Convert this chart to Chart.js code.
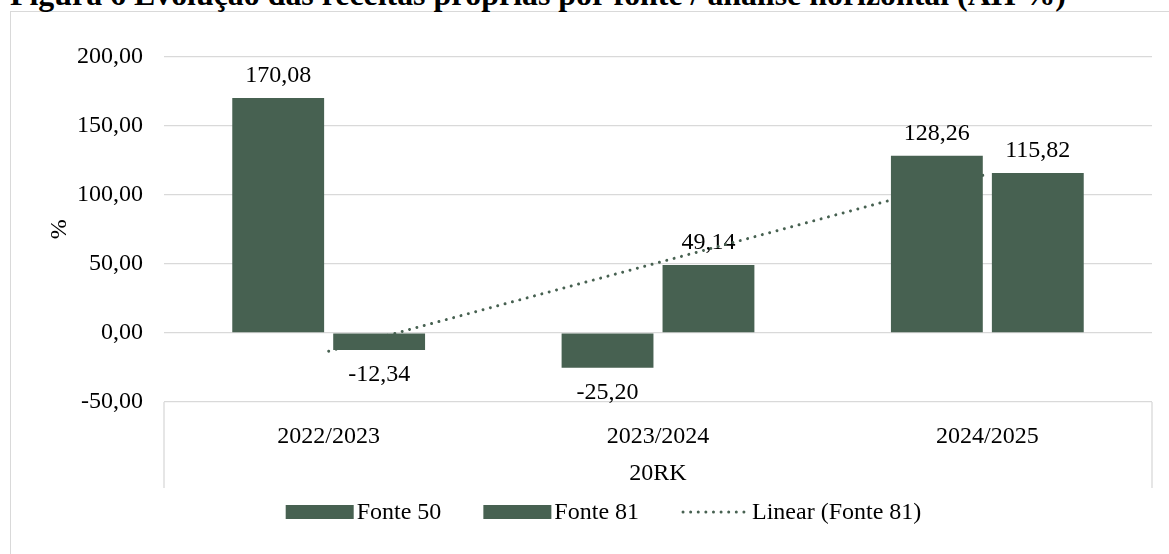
<!DOCTYPE html>
<html>
<head>
<meta charset="utf-8">
<script src="https://cdn.jsdelivr.net/npm/chart.js@4.4.1/dist/chart.umd.min.js"></script>
<style>
  html, body { margin: 0; padding: 0; background: #ffffff; overflow: hidden; }
  body { width: 1169px; height: 554px; position: relative; }
  #frame { position: absolute; left: 10px; top: 11px; width: 1186px; height: 600px; border: 1px solid #d9d9d9; box-sizing: border-box; }
  #title { position: absolute; left: 10px; top: 0; white-space: nowrap; font-family: "Liberation Serif", "Times New Roman", serif; font-weight: bold; color: #000; line-height: 1; }
  #wrap { position: absolute; left: 0; top: 0; width: 1169px; height: 554px; }
</style>
</head>
<body>
<div id="frame"></div>
<div id="title">Figura 6 Evolução das receitas próprias por fonte / análise horizontal (AH %)</div>
<div id="wrap"><canvas id="c" width="1169" height="554"></canvas></div>
<script>
// ---- data ----
const categories = ['2022/2023', '2023/2024', '2024/2025'];
const fonte50 = [170.08, -25.20, 128.26];
const fonte81 = [-12.34, 49.14, 115.82];
const linearFonte81 = [-13.21, 50.87, 114.95];
const seriesNames = ['Fonte 50', 'Fonte 81', 'Linear (Fonte 81)'];
const yTicks = [-50, 0, 50, 100, 150, 200];
const yTitle = '%';
const xTitle = '20RK';

const GREEN = '#476151';
const FONT = '"Liberation Serif", "Times New Roman", serif';

// title sizing (clipped at top in reference)
(function () {
  const t = document.getElementById('title');
  const m = document.createElement('canvas').getContext('2d');
  m.font = 'bold 24px ' + FONT;
  const w = m.measureText(t.textContent).width;
  const size = 24 * 1057 / w;
  t.style.fontSize = size + 'px';
  // baseline at y ~ 7.5
  t.style.top = (7.5 - size * 0.891) + 'px';
})();

function fmt(v) {
  return v.toFixed(2).replace('.', ',');
}

const labelsPlugin = {
  id: 'valueLabels',
  beforeDatasetsDraw(chart) {
    const ctx = chart.ctx;
    ctx.save();
    ctx.font = '24px ' + FONT;
    ctx.fillStyle = '#000';
    ctx.textAlign = 'center';
    ctx.textBaseline = 'alphabetic';
    chart.data.datasets.forEach((ds, i) => {
      if (ds.type === 'line') return;
      const meta = chart.getDatasetMeta(i);
      meta.data.forEach((el, j) => {
        const v = ds.data[j];
        const base = el.base;
        if (v >= 0) {
          ctx.fillText(fmt(v), el.x, el.y - 16);
        } else {
          ctx.fillText(fmt(v), el.x, el.y + 31);
        }
      });
    });
    ctx.restore();
  }
};

const boxPlugin = {
  id: 'catBox',
  afterDraw(chart) {
    const ctx = chart.ctx;
    const a = chart.chartArea;
    ctx.save();
    ctx.strokeStyle = '#d9d9d9';
    ctx.lineWidth = 1.3;
    ctx.beginPath();
    ctx.moveTo(a.left, a.bottom);
    ctx.lineTo(a.left, 488);
    ctx.moveTo(a.right, a.bottom);
    ctx.lineTo(a.right, 488);
    ctx.stroke();
    ctx.restore();
  }
};

const legendPlugin = {
  id: 'customLegend',
  afterDraw(chart) {
    const ctx = chart.ctx;
    ctx.save();
    ctx.font = '24px ' + FONT;
    const swW = 68, swH = 14, gapT = 3, gapI = 42;
    const cy = 512;
    const items = chart.data.datasets.map(ds => ({ ds, w: ctx.measureText(ds.label).width }));
    let total = 0;
    items.forEach((it, k) => { total += swW + gapT + it.w + (k ? gapI : 0); });
    let x = 603.5 - total / 2;
    items.forEach((it) => {
      const ds = it.ds;
      if (ds.type === 'line') {
        ctx.strokeStyle = ds.borderColor;
        ctx.lineWidth = ds.borderWidth;
        ctx.lineCap = 'round';
        ctx.setLineDash(ds.borderDash);
        ctx.beginPath();
        ctx.moveTo(x + 2, cy);
        ctx.lineTo(x + swW - 2, cy);
        ctx.stroke();
        ctx.setLineDash([]);
      } else {
        ctx.fillStyle = ds.backgroundColor;
        ctx.fillRect(x, cy - swH / 2, swW, swH);
      }
      ctx.fillStyle = '#000';
      ctx.textAlign = 'left';
      ctx.textBaseline = 'middle';
      ctx.fillText(ds.label, x + swW + gapT, cy + 1);
      x += swW + gapT + it.w + gapI;
    });
    ctx.restore();
  }
};

new Chart(document.getElementById('c'), {
  type: 'bar',
  data: {
    labels: categories,
    datasets: [
      { type: 'bar', label: seriesNames[0], data: fonte50, backgroundColor: GREEN, borderWidth: 0, order: 1,
        categoryPercentage: 0.613, barPercentage: 0.91 },
      { type: 'bar', label: seriesNames[1], data: fonte81, backgroundColor: GREEN, borderWidth: 0, order: 1,
        categoryPercentage: 0.613, barPercentage: 0.91 },
      { type: 'line', label: seriesNames[2], data: linearFonte81, borderColor: GREEN, backgroundColor: GREEN,
        borderWidth: 3, borderDash: [0.01, 7.6], borderCapStyle: 'round', pointRadius: 0, fill: false,
        tension: 0, order: 2 }
    ]
  },
  options: {
    responsive: false,
    animation: false,
    devicePixelRatio: 1,
    layout: { padding: { left: 0, right: 17, top: 56.7, bottom: 0 } },
    plugins: {
      legend: { display: false },
      tooltip: { enabled: false },
      title: { display: false }
    },
    scales: {
      x: {
        grid: { display: false, drawTicks: false },
        border: { display: false },
        ticks: { color: '#000', font: { family: FONT, size: 24 }, padding: 20, maxRotation: 0 },
        title: { display: true, text: xTitle, color: '#000', font: { family: FONT, size: 24 }, padding: { top: 0, bottom: 66 } },
        afterFit(s) { s.height = 152; }
      },
      y: {
        min: -50, max: 200,
        afterBuildTicks(s) { s.ticks = yTicks.map(v => ({ value: v })); },
        grid: { color: '#d9d9d9', lineWidth: 1.3, drawTicks: false },
        border: { display: false },
        ticks: { color: '#000', font: { family: FONT, size: 24 }, padding: 21, callback: (v) => fmt(v) },
        title: { display: true, text: yTitle, color: '#000', font: { family: FONT, size: 24 }, padding: { top: 45, bottom: 0 } },
        afterFit(s) { s.width = 164; }
      }
    }
  },
  plugins: [labelsPlugin, boxPlugin, legendPlugin]
});
</script>
</body>
</html>
